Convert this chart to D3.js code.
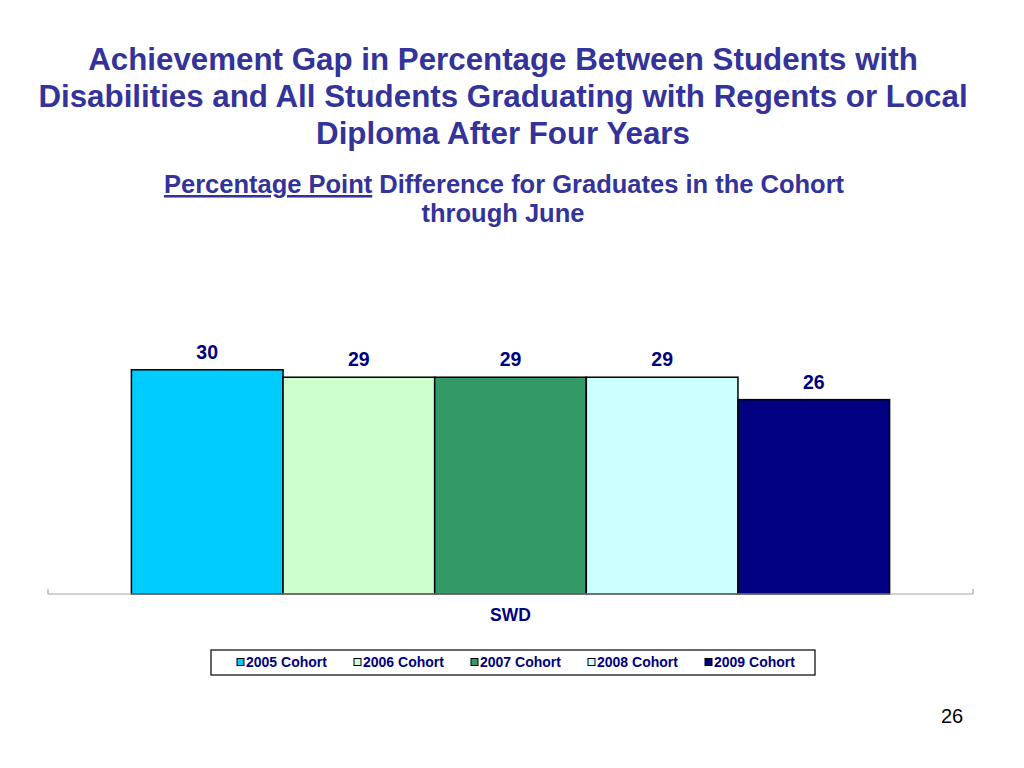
<!DOCTYPE html>
<html lang="en">
<head>
    <meta charset="UTF-8">
    <title>Achievement Gap</title>
    <script src="https://d3js.org/d3.v7.min.js"></script>
    <style>
        body { margin: 0; background: #fff; }
        text { font-family: 'Liberation Sans', Arial, sans-serif; }
    </style>
</head>
<body>
<script>

    const width  = 1024;
    const height = 768;

    const categories = ['SWD'];
    const seriesNames = ['2005 Cohort', '2006 Cohort', '2007 Cohort', '2008 Cohort', '2009 Cohort'];
    const seriesValues = [30, 29, 29, 29, 26];
    const seriesColors = ['#00ccff', '#ccffcc', '#339966', '#ccffff', '#000080'];

    const titleLines = [
        'Achievement Gap in Percentage Between Students with',
        'Disabilities and All Students Graduating with Regents or Local',
        'Diploma After Four Years'
    ];

    const svg = d3.select("body")
            .append("svg")
            .attr("width", width)
            .attr("height", height);

    // title
    svg.append("g")
            .selectAll("text")
            .data(titleLines)
            .enter()
            .append("text")
            .attr("x", 503)
            .attr("y", (d, i) => 70 + i * 37)
            .attr("text-anchor", "middle")
            .style("font-size", "31.3px")
            .style("font-weight", "bold")
            .style("fill", "#333399")
            .text(d => d);

    // subtitle
    const sub = svg.append("text")
            .attr("x", 504)
            .attr("y", 193)
            .attr("text-anchor", "middle")
            .style("font-size", "25.5px")
            .style("font-weight", "bold")
            .style("fill", "#333399");
    sub.append("tspan").style("text-decoration", "underline").text("Percentage Point");
    sub.append("tspan").text(" Difference for Graduates in the Cohort");
    svg.append("text")
            .attr("x", 503)
            .attr("y", 222)
            .attr("text-anchor", "middle")
            .style("font-size", "25.5px")
            .style("font-weight", "bold")
            .style("fill", "#333399")
            .text("through June");

    // scales
    const x0 = d3.scaleBand()
            .domain(categories)
            .range([48, 973]);

    const x1 = d3.scaleBand()
            .domain(seriesNames)
            .range([0, x0.bandwidth()])
            .paddingInner(0)
            .paddingOuter(0.55);

    const y = d3.scaleLinear()
            .domain([0, 40])
            .range([594, 295]);

    const color = d3.scaleOrdinal()
            .domain(seriesNames)
            .range(seriesColors);

    const rows = seriesNames.map((name, i) => ({name: name, value: seriesValues[i], cat: categories[0]}));

    const g = svg.append("g");

    g.selectAll(".bar")
            .data(rows)
            .enter()
            .append("rect").attr("class", "bar")
            .attr("x", d => x0(d.cat) + x1(d.name))
            .attr("y", d => y(d.value))
            .attr("width", x1.bandwidth())
            .attr("height", d => y(0) - y(d.value))
            .style("fill", d => color(d.name))
            .style("stroke", "#000")
            .style("stroke-width", 1.5);

    g.selectAll(".label")
            .data(rows)
            .enter()
            .append("text").attr("class", "label")
            .attr("x", d => x0(d.cat) + x1(d.name) + x1.bandwidth() / 2)
            .attr("y", d => y(d.value) - 11)
            .attr("text-anchor", "middle")
            .style("font-size", "19.5px")
            .style("font-weight", "bold")
            .style("fill", "#000080")
            .text(d => d.value);

    // category axis
    const axis = svg.append("g")
            .attr("transform", "translate(0," + y(0) + ")")
            .call(d3.axisBottom(x0).tickSize(0).tickPadding(15));
    axis.select(".domain").remove();
    axis.selectAll("text")
            .style("font-family", "'Liberation Sans', Arial, sans-serif")
            .style("font-size", "17.5px")
            .style("font-weight", "bold")
            .style("fill", "#000080");

    axis.append("path")
            .attr("d", "M" + x0.range()[0] + ",-5V0H" + x0.range()[1] + "V-5")
            .style("fill", "none")
            .style("stroke", "#a6a6a6")
            .style("stroke-width", 1.2);

    // legend
    const legend = svg.append("g").attr("transform", "translate(211,650)");
    legend.append("rect")
            .attr("width", 604)
            .attr("height", 25)
            .style("fill", "#fff")
            .style("stroke", "#000")
            .style("stroke-width", 1.2);

    const lx = d3.scaleBand()
            .domain(seriesNames)
            .range([26, 26 + 117 * 5]);

    const item = legend.selectAll(".item")
            .data(seriesNames)
            .enter()
            .append("g").attr("class", "item")
            .attr("transform", d => "translate(" + lx(d) + ",0)");

    item.append("rect")
            .attr("x", 0)
            .attr("y", 8.5)
            .attr("width", 7)
            .attr("height", 7)
            .style("fill", d => color(d))
            .style("stroke", "#000")
            .style("stroke-width", 1);

    item.append("text")
            .attr("x", 9)
            .attr("y", 17)
            .style("font-size", "14px")
            .style("font-weight", "bold")
            .style("fill", "#000080")
            .text(d => d);

    // page number
    svg.append("text")
            .attr("x", 952)
            .attr("y", 723)
            .attr("text-anchor", "middle")
            .style("font-size", "20px")
            .style("fill", "#000")
            .text("26");

</script>
</body>
</html>
